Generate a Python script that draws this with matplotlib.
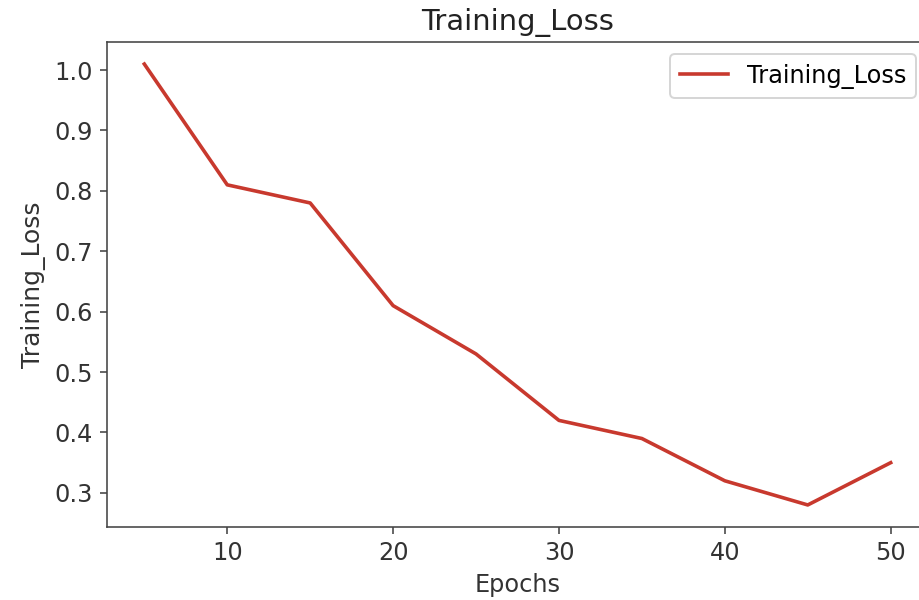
import matplotlib
matplotlib.use("Agg")
import matplotlib.pyplot as plt

epochs = [5, 10, 15, 20, 25, 30, 35, 40, 45, 50]
training_loss = [1.01, 0.81, 0.78, 0.61, 0.53, 0.42, 0.39, 0.32, 0.28, 0.35]

dpi = 144
fig = plt.figure(figsize=(919 / dpi, 600 / dpi), dpi=dpi)
ax = fig.add_axes([107 / 919, 73 / 600, (928 - 107) / 919, (527 - 42) / 600])
ax.plot(epochs, training_loss, color="#c8392e", linewidth=1.8, label="Training_Loss")
ax.set_title("Training_Loss", fontsize=14.5, color="#222222")
ax.set_xlabel("Epochs", fontsize=12, color="#333333")
ax.set_ylabel("Training_Loss", fontsize=12.5, color="#333333")
ax.set_xticks([10, 20, 30, 40, 50])
ax.tick_params(labelsize=12, labelcolor="#333333", color="#444444")
ax.legend(loc="upper right", fontsize=12)
for s in ax.spines.values():
    s.set_color("#444444")
fig.savefig("out.png", dpi=dpi)
